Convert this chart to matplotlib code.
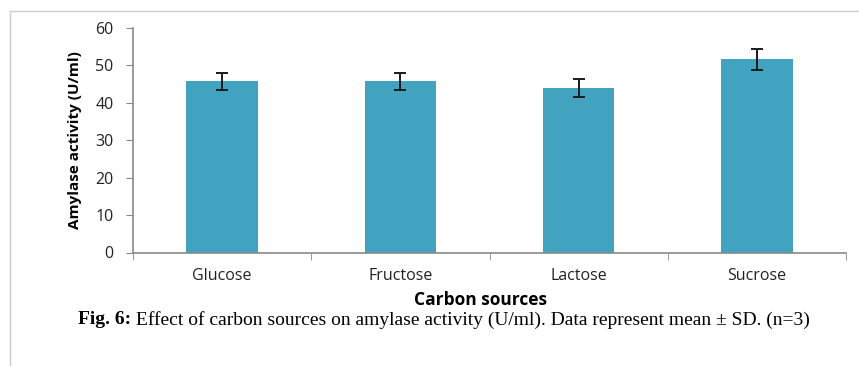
import matplotlib.pyplot as plt
from matplotlib.lines import Line2D
import numpy as np

# 数据
sources = ['Glucose', 'Fructose', 'Lactose', 'Sucrose']
activity = [45.8, 45.8, 44.0, 51.6]
sd = [2.3, 2.3, 2.4, 2.7]
yticks = [0, 10, 20, 30, 40, 50, 60]
cap_bold = 'Fig. 6:'
cap_text = ' Effect of carbon sources on amylase activity (U/ml). Data represent mean ± SD. (n=3)'

W, H = 859, 366
fig = plt.figure(figsize=(W/100, H/100), dpi=100)
ax = fig.add_axes([133/W, 1-252.5/H, (846-133)/W, (252.5-28)/H])

x = np.arange(len(sources))
ax.bar(x, activity, width=0.4, color='#42A3C1', zorder=2)
ax.errorbar(x, activity, yerr=sd, fmt='none', ecolor='#1a1a1a', elinewidth=1.4,
            capsize=4, capthick=1.4, zorder=3)

ax.set_xlim(-0.5, len(sources)-0.5)
ax.set_ylim(0, 60)
ax.set_yticks(yticks)
ax.set_xticks(x)
ax.set_xticklabels(sources, family='Open Sans', fontsize=11.5, color='#222222')
ax.set_xticks(np.arange(-0.5, len(sources)), minor=True)
ax.tick_params(axis='x', which='major', length=0, pad=11)
ax.tick_params(axis='x', which='minor', length=5, color='#888888', direction='out')
ax.tick_params(axis='y', length=5, color='#888888', pad=9, labelsize=11.5)
for t in ax.get_yticklabels():
    t.set_family('Open Sans')
    t.set_color('#222222')

for s in ['top', 'right']:
    ax.spines[s].set_visible(False)
for s in ['left', 'bottom']:
    ax.spines[s].set_color('#8a8a8a')
    ax.spines[s].set_linewidth(1.2)

ax.set_ylabel('Amylase activity (U/ml)', family='Open Sans', fontweight='bold',
              fontsize=11)
ax.yaxis.set_label_coords(-(133-82)/(846-133), 0.5)

fig.text(480/W, 1-300/H, 'Carbon sources', family='Open Sans', fontweight='bold',
         fontsize=12.5, ha='center', va='center')

# 图注：粗体部分 + 普通部分
r = fig.canvas.get_renderer()
t1 = fig.text(0, 1-320/H, cap_bold, family='Liberation Serif', fontweight='bold',
              fontsize=14, ha='left', va='center')
t2 = fig.text(0, 1-320/H, cap_text, family='Liberation Serif',
              fontsize=14, ha='left', va='center')
w1 = t1.get_window_extent(r).width
w2 = t2.get_window_extent(r).width
x0 = 444 - (w1 + w2) / 2
t1.set_x(x0/W)
t2.set_x((x0 + w1)/W)

# 外框
fig.add_artist(Line2D([10/W, 1], [1-11/H, 1-11/H], color='#cccccc', lw=1))
fig.add_artist(Line2D([10/W, 10/W], [0, 1-11/H], color='#cccccc', lw=1))

fig.savefig('out.png', dpi=100)
